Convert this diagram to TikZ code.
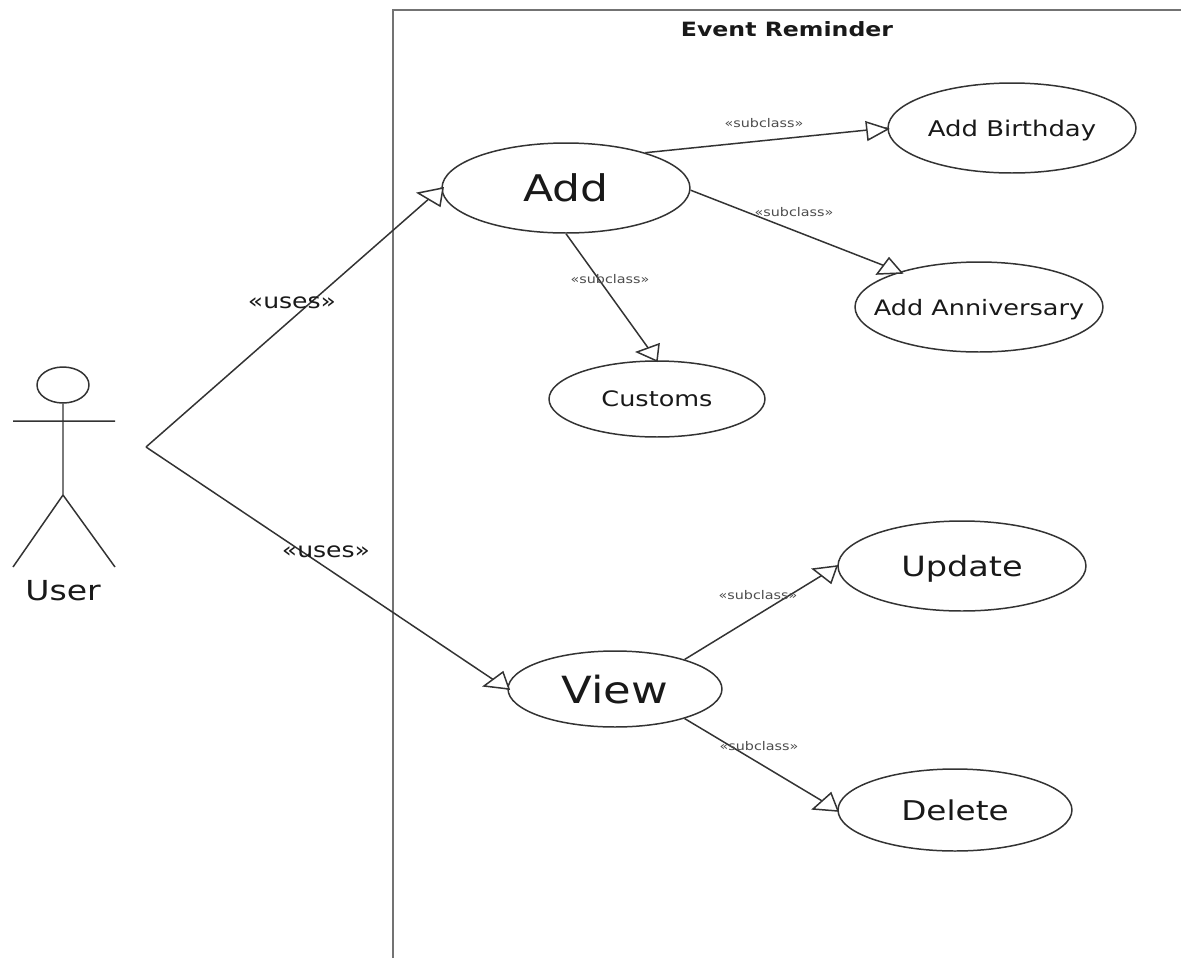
\documentclass[tikz,border=0pt]{standalone}
\usepackage{fontspec}
\setmainfont[FakeStretch=1.2]{DejaVu Sans}
\usetikzlibrary{shapes.geometric}
\definecolor{linegray}{gray}{0.2}
\begin{document}
\begin{tikzpicture}[x=0.02cm,y=-0.02cm,line width=.85pt,draw=linegray,text=black!90,
        usecase/.style={ellipse,draw,inner sep=0,text depth=0pt,minimum width=4.96cm,minimum height=1.8cm},
        tag/.style={inner sep=0,font=\fontsize{11.9}{14}\selectfont},
        subtag/.style={inner sep=0,text=black!70,font=\fontsize{6.8}{8}\selectfont},
        opentip/.style={draw,fill=white,line join=miter}]
        \useasboundingbox (0,0) rectangle (1181,958);
        % system frame
        \coordinate (framebl) at (393,958);
        \coordinate (frametl) at (393,10);
        \coordinate (frametr) at (1181,10);
        \draw[line width=1.6pt,draw=black!55] (framebl) -- (frametl) -- (frametr);
        \node[inner sep=0,font=\fontsize{11.2}{13}\selectfont\bfseries] (title) at (787,29) {Event Reminder};
        % actor
        \node[ellipse,draw,inner sep=0,minimum width=1.04cm,minimum height=.72cm] (head) at (63,385) {};
        \coordinate (hip) at (63,495);
        \coordinate (armL) at (13,421);
        \coordinate (armR) at (115,421);
        \coordinate (legL) at (13,567);
        \coordinate (legR) at (115,567);
        \coordinate (hand) at (146,447);
        \draw (head.south) -- (hip) (armL) -- (armR) (legL) -- (hip) -- (legR);
        \node[inner sep=0,font=\fontsize{15.7}{18}\selectfont] (user) at (63,591) {User};
        % use cases
        \node[usecase,font=\fontsize{20.9}{24}\selectfont] (add) at (566,188) {Add};
        \node[usecase,font=\fontsize{12.3}{15}\selectfont] (birthday) at (1012,128) {\makebox[0pt]{Add Birthday}};
        \node[usecase,font=\fontsize{12.1}{15}\selectfont] (anniversary) at (979,307) {\makebox[0pt]{Add Anniversary}};
        \node[usecase,minimum width=4.32cm,minimum height=1.52cm,font=\fontsize{12.1}{15}\selectfont] (customs) at (657,399) {\makebox[0pt]{Customs}};
        \node[usecase,font=\fontsize{15.9}{18}\selectfont] (update) at (962,566) {\makebox[0pt]{Update}};
        \node[usecase,minimum width=4.28cm,minimum height=1.52cm,font=\fontsize{21.3}{24}\selectfont] (view) at (615,689) {\makebox[0pt]{View}};
        \node[usecase,minimum width=4.68cm,minimum height=1.64cm,font=\fontsize{15.5}{18}\selectfont] (delete) at (955,810) {\makebox[0pt]{Delete}};
        % connectors
        \path[draw]
          (hand) edge (add.west)
          (hand) edge (view.west)
          (add.24) edge (birthday.west)
          (add.-1) edge (anniversary.156)
          (add.south) edge (customs.north)
          (view.23) edge (update.west)
          (view.-23) edge (delete.west)
          ;
        % arrow tips
        \draw[opentip] (418,193) -- (443,188) -- (440,206) -- cycle;
        \draw[opentip] (484,686) -- (503,672) -- (509,689) -- cycle;
        \draw[opentip] (866,122) -- (888,129) -- (868,140) -- cycle;
        \draw[opentip] (877,274) -- (889,258) -- (902,273) -- cycle;
        \draw[opentip] (659,344) -- (637,352) -- (657,361) -- cycle;
        \draw[opentip] (813,569) -- (837,566) -- (831,583) -- cycle;
        \draw[opentip] (813,809) -- (831,793) -- (838,811) -- cycle;
        % labels
        \node[tag] (uses1) at (292,303) {«uses»};
        \node[tag] (uses2) at (326,552) {«uses»};
        \node[subtag] (sub1) at (764,123) {«subclass»};
        \node[subtag] (sub2) at (794,212) {«subclass»};
        \node[subtag] (sub3) at (610,279) {«subclass»};
        \node[subtag] (sub4) at (758,595) {«subclass»};
        \node[subtag] (sub5) at (759,746) {«subclass»};
\end{tikzpicture}
\end{document}
